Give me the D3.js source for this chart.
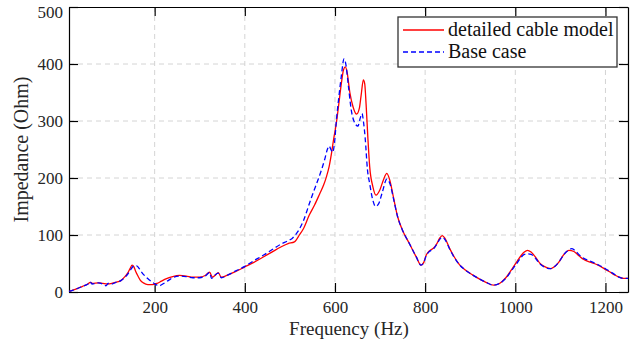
<!DOCTYPE html>
<html>
<head>
<meta charset="utf-8">
<script src="https://cdn.jsdelivr.net/npm/d3@7"></script>
</head>
<body style="margin:0">
<script>
// Frequency (Hz) / impedance (Ohm) pairs
const redFreq = [10, 25, 40, 52, 57, 62, 75, 85, 95, 105, 114, 125, 133, 140, 146, 150, 154, 158, 163, 168,
  175, 185, 195, 205, 215, 225, 240, 255, 270, 285, 300, 312, 322, 328, 335, 341, 348, 360, 380, 400,
  420, 440, 460, 480, 496, 510, 521, 530, 543, 555, 566, 575, 581, 587, 592, 597, 603, 609, 614, 619,
  623, 627, 633, 640, 648, 654, 658, 663, 666, 669, 673, 677, 684, 691, 700, 708, 715, 722, 730, 739,
  750, 765, 780, 791, 797, 802, 808, 813, 820, 826, 832, 838, 844, 854, 865, 876, 890, 905, 920, 935,
  952, 965, 979, 994, 1005, 1013, 1020, 1027, 1035, 1046, 1055, 1064, 1079, 1088, 1097, 1108, 1119, 1130, 1142, 1152,
  1164, 1175, 1186, 1197, 1208, 1220, 1230, 1240, 1250];
const redImp = [1, 5, 10, 14, 17, 15, 16, 15, 14, 15, 17, 20, 26, 33, 42, 47, 44, 36, 28, 21,
  16, 13, 13, 15, 19, 23, 27, 29, 28, 26, 26, 29, 35, 26, 30, 34, 26, 29, 36, 44,
  52, 61, 70, 79, 85, 88, 100, 111, 135, 153, 172, 188, 202, 220, 242, 268, 296, 333, 365, 390,
  395, 385, 350, 325, 312, 322, 345, 372, 365, 330, 270, 220, 185, 170, 180, 198, 208, 195, 165, 132,
  108, 85, 62, 47, 52, 64, 71, 74, 78, 85, 94, 99, 94, 77, 61, 48, 38, 30, 23, 17,
  12, 15, 25, 42, 55, 64, 70, 73, 70, 60, 50, 45, 41, 45, 53, 66, 73, 71, 63, 57,
  53, 50, 46, 41, 36, 30, 26, 24, 24];

const blueFreq = [10, 25, 40, 52, 57, 61, 75, 85, 92, 97, 105, 114, 125, 133, 140, 146, 150, 155, 160, 165,
  170, 184, 199, 210, 220, 230, 240, 255, 270, 285, 300, 312, 322, 326, 333, 341, 348, 360, 380, 400,
  420, 440, 460, 480, 496, 505, 514, 520, 530, 544, 553, 562, 570, 577, 583, 587, 591, 595, 599, 603,
  609, 614, 620, 624, 630, 636, 642, 651, 656, 660, 663, 667, 672, 677, 684, 690, 697, 705, 715, 722,
  730, 739, 750, 765, 780, 791, 797, 802, 808, 813, 820, 826, 832, 838, 844, 854, 865, 876, 890, 905,
  920, 935, 952, 965, 979, 994, 1005, 1013, 1020, 1027, 1035, 1046, 1055, 1064, 1079, 1088, 1097, 1108, 1119, 1125,
  1132, 1142, 1152, 1164, 1175, 1186, 1197, 1208, 1220, 1230, 1240, 1250];
const blueImp = [1, 5, 10, 14, 18, 14, 16, 14, 11, 15, 14, 17, 20, 25, 31, 38, 43, 46, 46, 42,
  36, 24, 15, 11, 15, 20, 25, 28, 27, 25, 25, 28, 34, 24, 29, 33, 25, 29, 37, 45,
  55, 64, 74, 84, 90, 94, 102, 109, 125, 157, 177, 196, 214, 232, 250, 256, 250, 245, 262, 300,
  345, 378, 409, 400, 360, 320, 300, 291, 305, 313, 300, 270, 215, 190, 161, 150, 155, 175, 198, 190,
  163, 132, 108, 85, 62, 47, 52, 63, 70, 73, 77, 84, 92, 96, 92, 76, 60, 48, 38, 30,
  23, 17, 12, 15, 24, 40, 52, 61, 66, 67, 66, 58, 49, 44, 41, 45, 53, 66, 74, 76,
  73, 65, 59, 55, 51, 47, 42, 37, 31, 26, 24, 24];

const xTicks = [200, 400, 600, 800, 1000, 1200];
const yTicks = [0, 100, 200, 300, 400, 500];
const seriesNames = ["detailed cable model", "Base case"];

const width = 644, height = 341;
const margin = { top: 7, right: 16, bottom: 49, left: 69 };
const plotW = width - margin.left - margin.right;
const plotH = height - margin.top - margin.bottom;
const fontName = "Liberation Serif";
const serif = "'" + fontName + "'";
const textColor = "#262626";

const svg = d3.select("body").append("svg")
  .attr("width", width)
  .attr("height", height)
  .style("display", "block");

const x = d3.scaleLinear().domain([10, 1250]).range([0, plotW]);
const y = d3.scaleLinear().domain([0, 500]).range([plotH, 0]);

const g = svg.append("g")
  .attr("transform", "translate(" + margin.left + "," + margin.top + ")");

// Dashed grid
g.append("g")
  .selectAll("line")
  .data(xTicks)
  .join("line")
  .attr("x1", d => x(d)).attr("x2", d => x(d))
  .attr("y1", 0).attr("y2", plotH)
  .attr("stroke", "#d4d4d4")
  .attr("stroke-dasharray", "5,4");

g.append("g")
  .selectAll("line")
  .data(yTicks.filter(d => d > 0 && d < 500))
  .join("line")
  .attr("x1", 0).attr("x2", plotW)
  .attr("y1", d => y(d)).attr("y2", d => y(d))
  .attr("stroke", "#d4d4d4")
  .attr("stroke-dasharray", "5,4");

// Axes, ticks pointing inward on all four sides
function styleAxis(sel) {
  sel.attr("font-family", null).attr("font-size", null);
  sel.select(".domain").attr("stroke", "#000").attr("stroke-width", 1.2);
  sel.selectAll(".tick line").attr("stroke", "#000").attr("stroke-width", 1.2);
  sel.selectAll("text")
    .style("font-family", serif)
    .style("font-size", "17px")
    .attr("fill", textColor);
}

g.append("g")
  .attr("transform", "translate(0," + plotH + ")")
  .call(d3.axisBottom(x).tickValues(xTicks).tickSizeInner(-9).tickSizeOuter(0).tickPadding(9).tickFormat(d3.format("d")))
  .call(styleAxis);

g.append("g")
  .call(d3.axisTop(x).tickValues(xTicks).tickSizeInner(-9).tickSizeOuter(0).tickFormat(""))
  .call(styleAxis);

const yAxisG = g.append("g")
  .call(d3.axisLeft(y).tickValues(yTicks).tickSizeInner(-9).tickSizeOuter(0).tickPadding(6).tickFormat(d3.format("d")))
  .call(styleAxis);
// keep the top label inside the picture, as in the original
yAxisG.selectAll(".tick text").filter(d => d === 500).attr("dy", "0.6em");

g.append("g")
  .attr("transform", "translate(" + plotW + ",0)")
  .call(d3.axisRight(y).tickValues(yTicks).tickSizeInner(-9).tickSizeOuter(0).tickFormat(""))
  .call(styleAxis);

// Curves
const line = d3.line()
  .x(d => x(d[0]))
  .y(d => y(d[1]))
  .curve(d3.curveMonotoneX);

g.append("clipPath").attr("id", "plotclip")
  .append("rect").attr("width", plotW).attr("height", plotH);

g.append("path")
  .datum(d3.zip(redFreq, redImp))
  .attr("clip-path", "url(#plotclip)")
  .attr("d", line)
  .attr("fill", "none")
  .attr("stroke", "#ff0000")
  .attr("stroke-width", 1.3);

g.append("path")
  .datum(d3.zip(blueFreq, blueImp))
  .attr("clip-path", "url(#plotclip)")
  .attr("d", line)
  .attr("fill", "none")
  .attr("stroke", "#0000ff")
  .attr("stroke-width", 1.3)
  .attr("stroke-dasharray", "5,3");

// Axis titles
svg.append("text")
  .attr("x", 349)
  .attr("y", 335)
  .attr("text-anchor", "middle")
  .style("font-family", serif)
  .style("font-size", "19px")
  .attr("fill", textColor)
  .text("Frequency (Hz)");

svg.append("text")
  .attr("transform", "translate(28," + (margin.top + plotH / 2) + ") rotate(-90)")
  .attr("text-anchor", "middle")
  .style("font-family", serif)
  .style("font-size", "20px")
  .attr("fill", textColor)
  .text("Impedance (Ohm)");

// Legend
const legend = svg.append("g").attr("transform", "translate(398,17)");
legend.append("rect")
  .attr("width", 219).attr("height", 50)
  .attr("fill", "#fff")
  .attr("stroke", "#333")
  .attr("stroke-width", 1.3);

const legendColors = ["#ff0000", "#0000ff"];
const legendDash = [null, "5,3"];
seriesNames.forEach(function(name, i) {
  const ly = 13 + i * 22;
  legend.append("line")
    .attr("x1", 5).attr("x2", 46)
    .attr("y1", ly).attr("y2", ly)
    .attr("stroke", legendColors[i])
    .attr("stroke-width", 1.3)
    .attr("stroke-dasharray", legendDash[i]);
  legend.append("text")
    .attr("x", 50)
    .attr("y", ly + 6)
    .style("font-family", serif)
    .style("font-size", "20px")
    .attr("fill", "#111")
    .text(name);
});

// Re-apply the serif face once the browser has it loaded
if (document.fonts && document.fonts.load) {
  document.fonts.load("20px " + serif).then(function() {
    svg.selectAll("text").style("font-family", serif);
  });
}
</script>
</body>
</html>
